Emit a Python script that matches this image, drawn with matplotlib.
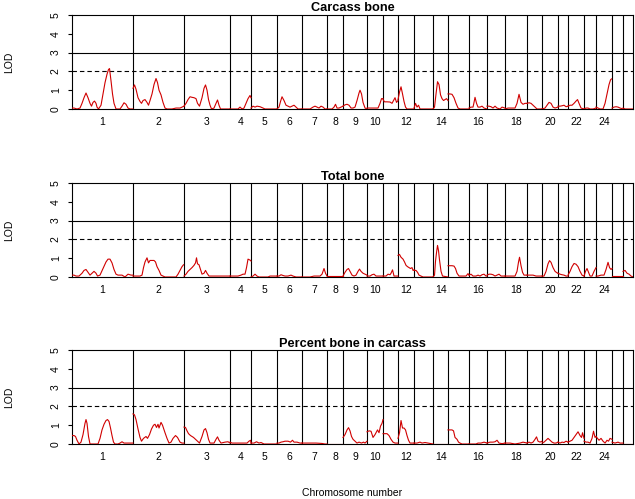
import numpy as np
import matplotlib.pyplot as plt

plt.rcParams['font.family'] = ['Liberation Sans', 'DejaVu Sans']

# chromosome lengths (map units) and labels shown under the axis
chrom_len = [61, 51, 46, 21, 26, 25, 25, 16, 24, 16, 15, 16, 19, 15, 21, 18, 18, 22, 15, 16, 10, 16, 12, 16, 11, 10]
chrom_labels = ['1', '2', '3', '4', '5', '6', '7', '8', '9', '10', '', '12', '', '14', '', '16', '',
                '18', '', '20', '', '22', '', '24', '', '']

# --- Carcass bone: positions within chromosome and LOD ---
carcass_pos = [
    [0, 2, 5, 8, 10, 12, 14, 16, 18, 19.5, 21, 22.5, 24, 25, 26.5, 29, 31, 33, 35, 36.5, 37.5, 39, 40.5, 42, 44, 48, 50, 52, 54, 56, 58, 61],
    [0, 1.5, 3, 5, 7, 8.5, 10, 12, 14, 15.5, 17, 19, 21, 23, 24.5, 26, 28, 30, 32, 34, 39, 43, 47, 49, 51],
    [0, 2, 4, 6, 8, 10, 12, 13.5, 15.5, 18, 20, 21.5, 23, 24.5, 26, 27.5, 30, 32, 33.5, 35, 36.5, 46],
    [0, 8, 10, 12, 14, 16, 18, 20, 21],
    [0, 2, 4, 6, 9, 12, 14, 26],
    [0, 2, 3.5, 5, 7, 9, 11, 13, 15, 17, 19, 21, 25],
    [0, 8, 11, 13, 15, 17, 19, 21, 23, 25],
    [0, 5, 7, 8.5, 10, 12, 14, 16],
    [0, 2, 4, 6, 8, 10, 12, 14, 16, 17, 18.5, 20, 22, 24],
    [0, 3, 7, 11, 13, 14.5, 16],
    [0, 1.5, 4, 7, 9, 10.5, 12, 13.5, 15],
    [0, 1.5, 3, 4.5, 6, 7.5, 9, 16],
    [0, 1.5, 3, 4.5, 6, 19],
    [0, 1.5, 3, 4.5, 6, 7.5, 9, 10.5, 12, 13.5, 15],
    [0, 2, 4, 6, 8, 10, 12, 21],
    [0, 2, 4, 5, 6, 7.5, 9, 11, 13, 15, 18],
    [0, 2, 4, 6, 8, 10, 13, 15, 18],
    [0, 3, 7, 10, 12, 14, 16, 18, 20, 22],
    [0, 2, 4, 6, 8, 10, 15],
    [0, 3, 5, 7, 9, 11, 13, 16],
    [0, 2, 4, 6, 8, 10],
    [0, 2, 4, 6, 8, 9.5, 11, 13, 16],
    [0, 2, 4, 6, 9, 12],
    [0, 2, 4, 7, 9, 11, 13, 14.5, 15.5],
    [0, 2, 4, 6, 8, 11],
    [0, 2, 10],
]
carcass_lod = [
    [0.05, 0.05, 0.0, 0.05, 0.3, 0.6, 0.85, 0.6, 0.3, 0.15, 0.35, 0.42, 0.3, 0.1, 0.0, 0.2, 0.8, 1.4, 1.85, 2.1, 2.15, 1.5, 0.8, 0.3, 0.0, 0.0, 0.15, 0.33, 0.25, 0.05, 0.0, 0.0],
    [1.1, 1.28, 1.05, 0.6, 0.4, 0.3, 0.45, 0.5, 0.35, 0.2, 0.45, 0.8, 1.3, 1.62, 1.4, 1.0, 0.75, 0.35, 0.05, 0.0, 0.0, 0.05, 0.05, 0.1, 0.15],
    [0.15, 0.3, 0.5, 0.65, 0.62, 0.6, 0.55, 0.3, 0.15, 0.6, 1.1, 1.28, 1.0, 0.5, 0.2, 0.0, 0.05, 0.3, 0.48, 0.2, 0.0, 0.0],
    [0.0, 0.0, 0.1, 0.0, 0.05, 0.3, 0.55, 0.72, 0.6],
    [0.05, 0.15, 0.1, 0.15, 0.12, 0.05, 0.0, 0.0],
    [0.0, 0.1, 0.4, 0.65, 0.45, 0.2, 0.15, 0.1, 0.15, 0.2, 0.1, 0.0, 0.0],
    [0.0, 0.0, 0.1, 0.15, 0.1, 0.05, 0.15, 0.1, 0.0, 0.0],
    [0.0, 0.0, 0.1, 0.25, 0.05, 0.05, 0.1, 0.15],
    [0.15, 0.22, 0.25, 0.2, 0.05, 0.05, 0.1, 0.45, 0.85, 1.0, 0.8, 0.35, 0.05, 0.0],
    [0.05, 0.05, 0.05, 0.05, 0.3, 0.55, 0.55],
    [0.5, 0.38, 0.38, 0.37, 0.3, 0.45, 0.6, 0.35, 0.45],
    [0.5, 0.9, 1.18, 0.8, 0.4, 0.1, 0.0, 0.0],
    [0.05, 0.3, 0.1, 0.2, 0.0, 0.0],
    [0.0, 0.1, 0.8, 1.45, 1.3, 0.75, 0.55, 0.45, 0.5, 0.55, 0.45],
    [0.8, 0.8, 0.78, 0.6, 0.3, 0.05, 0.0, 0.0],
    [0.05, 0.1, 0.1, 0.35, 0.62, 0.3, 0.1, 0.1, 0.15, 0.05, 0.0],
    [0.15, 0.15, 0.12, 0.05, 0.15, 0.05, 0.0, 0.1, 0.05],
    [0.0, 0.05, 0.05, 0.05, 0.3, 0.78, 0.35, 0.25, 0.3, 0.3],
    [0.3, 0.33, 0.3, 0.2, 0.1, 0.0, 0.0],
    [0.0, 0.05, 0.2, 0.35, 0.3, 0.1, 0.05, 0.1],
    [0.15, 0.15, 0.17, 0.2, 0.12, 0.15],
    [0.15, 0.2, 0.2, 0.3, 0.42, 0.5, 0.3, 0.05, 0.0],
    [0.0, 0.05, 0.05, 0.0, 0.0, 0.05],
    [0.1, 0.05, 0.0, 0.0, 0.3, 0.8, 1.3, 1.55, 1.6],
    [0.05, 0.1, 0.12, 0.1, 0.05, 0.0],
    [0.05, 0.0, 0.0],
]

# --- Total bone ---
total_pos = [
    [0, 2, 4, 7, 10, 12, 14, 16, 18, 20, 22, 24, 25.5, 28, 31, 34, 36, 38, 40, 42, 44, 46, 50, 53, 56, 59, 61],
    [0, 3, 7, 9, 10.5, 12, 14, 15.5, 17, 19, 21, 22.5, 24, 26, 28, 30, 32, 43, 45, 47, 49, 50.5],
    [0, 2, 4, 6, 8, 10, 11.5, 12.5, 13.5, 15, 16.5, 18, 20, 21.5, 23, 25, 28, 32, 36, 40, 43, 46],
    [0, 4, 8, 11, 13, 15, 16.5, 18, 20, 21],
    [0, 2, 4, 6, 8, 17, 19, 26],
    [0, 2, 4, 6, 8, 11, 14, 16, 19, 25],
    [0, 8, 12, 18, 20, 22, 23.5, 25],
    [0, 8, 16],
    [0, 2, 4, 5.5, 7, 9, 11, 13, 15, 16.5, 18, 20, 22, 24],
    [0, 3, 5, 7, 9, 12, 16],
    [0, 3, 5, 7, 8, 9.5, 11, 15],
    [0, 1.5, 3, 5, 6.5, 8, 9.5, 11, 12.5, 14, 15, 16],
    [0, 2, 3.5, 5, 7, 9, 19],
    [0, 1.5, 2.5, 3.5, 4.5, 5.5, 6.5, 8, 9.5, 15],
    [0, 2, 4, 6, 7.5, 9, 11, 15, 18, 20, 21],
    [0, 2, 4, 7, 9, 11, 13, 15, 17, 18],
    [0, 2, 4, 6, 8, 10, 12, 14, 16, 18],
    [0, 5, 10, 12, 13.5, 14.5, 16, 17.5, 19, 22],
    [0, 3, 6, 9, 15],
    [0, 2, 4, 6, 7.5, 9, 11, 13, 15, 16],
    [0, 2, 4, 6, 8, 10],
    [0, 2, 4, 6, 8, 10, 12, 14, 16],
    [0, 1.5, 3, 4.5, 6, 8, 10, 12],
    [0, 2, 5, 8, 10, 12, 13.5, 15, 16],
    [0, 5, 11],
    [0, 2, 4, 6, 8, 10],
]
total_lod = [
    [0.1, 0.1, 0.05, 0.05, 0.2, 0.35, 0.4, 0.25, 0.1, 0.2, 0.3, 0.2, 0.05, 0.1, 0.45, 0.8, 0.95, 0.95, 0.75, 0.4, 0.15, 0.1, 0.1, 0.0, 0.15, 0.1, 0.1],
    [0.05, 0.05, 0.05, 0.1, 0.5, 0.8, 1.02, 0.75, 0.88, 0.88, 0.88, 0.8, 0.55, 0.35, 0.1, 0.05, 0.0, 0.0, 0.15, 0.35, 0.55, 0.65],
    [0.05, 0.15, 0.3, 0.4, 0.5, 0.62, 0.75, 1.02, 0.7, 0.65, 0.4, 0.15, 0.2, 0.35, 0.2, 0.05, 0.05, 0.05, 0.05, 0.05, 0.05, 0.05],
    [0.05, 0.05, 0.05, 0.1, 0.15, 0.15, 0.5, 0.95, 0.9, 0.85],
    [0.0, 0.05, 0.15, 0.05, 0.0, 0.0, 0.05, 0.05],
    [0.05, 0.05, 0.12, 0.08, 0.05, 0.05, 0.1, 0.05, 0.0, 0.0],
    [0.0, 0.0, 0.05, 0.05, 0.15, 0.45, 0.2, 0.05],
    [0.05, 0.05, 0.05],
    [0.05, 0.25, 0.4, 0.45, 0.3, 0.1, 0.05, 0.1, 0.3, 0.42, 0.3, 0.2, 0.15, 0.1],
    [0.05, 0.05, 0.12, 0.15, 0.05, 0.05, 0.05],
    [0.05, 0.05, 0.15, 0.12, 0.2, 0.38, 0.05, 0.05],
    [1.15, 1.2, 1.05, 0.95, 0.8, 0.62, 0.55, 0.5, 0.45, 0.5, 0.35, 0.38],
    [0.35, 0.35, 0.25, 0.1, 0.05, 0.0, 0.0],
    [0.0, 0.1, 0.85, 1.3, 1.68, 1.4, 0.9, 0.3, 0.05, 0.0],
    [0.6, 0.6, 0.6, 0.58, 0.45, 0.2, 0.05, 0.05, 0.05, 0.18, 0.1],
    [0.1, 0.15, 0.05, 0.05, 0.1, 0.05, 0.12, 0.15, 0.05, 0.05],
    [0.1, 0.15, 0.15, 0.12, 0.05, 0.1, 0.15, 0.05, 0.05, 0.05],
    [0.05, 0.05, 0.05, 0.3, 0.8, 1.05, 0.6, 0.25, 0.1, 0.1],
    [0.1, 0.1, 0.1, 0.05, 0.05],
    [0.05, 0.05, 0.3, 0.7, 0.87, 0.78, 0.5, 0.3, 0.22, 0.2],
    [0.2, 0.15, 0.12, 0.1, 0.05, 0.05],
    [0.1, 0.3, 0.55, 0.72, 0.68, 0.55, 0.3, 0.1, 0.05],
    [0.05, 0.3, 0.45, 0.25, 0.05, 0.05, 0.3, 0.5],
    [0.05, 0.05, 0.1, 0.1, 0.4, 0.78, 0.5, 0.4, 0.45],
    [0.05, 0.05, 0.05],
    [0.3, 0.35, 0.2, 0.15, 0.05, 0.0],
]

# --- Percent bone in carcass ---
pct_pos = [
    [0, 2, 3.5, 5, 7, 9, 11, 13, 14, 15, 16.5, 18, 26, 28, 30, 32, 34, 35.5, 37, 38.5, 40, 41.5, 43, 46, 48, 50, 52, 55, 58, 61],
    [0, 1.5, 3, 5, 7, 8.5, 10.5, 13, 14.5, 16.5, 18.5, 20.5, 22, 23.5, 25, 26, 28, 29.5, 32, 34, 36, 38, 40, 42.5, 44.5, 47, 49, 51],
    [0, 1.5, 3, 4.5, 6.5, 9.5, 12.5, 15.5, 18, 20, 21.5, 23, 24.5, 26, 30, 32, 33.5, 35, 37, 41, 44, 46],
    [0, 2, 6, 10, 14, 17, 19, 20.5, 21],
    [0, 3, 5.5, 8, 10, 13, 26],
    [0, 2, 4, 6, 8, 11, 13.5, 15.5, 17, 20, 23, 25],
    [0, 8, 14, 20, 23, 25],
    [0, 16],
    [0, 2, 4, 5.5, 7, 8.5, 10, 12, 14, 16, 18.5, 20.5, 22, 24],
    [0, 2, 4, 6, 8, 9.5, 10.5, 12, 13.5, 15, 16],
    [0, 2, 4, 6, 8, 10, 12, 15],
    [0, 1.5, 3, 4.5, 6, 7.5, 9, 10.5, 12, 16],
    [0, 3, 6, 8, 11, 14, 17, 19],
    [0, 15],
    [0, 2, 4, 5.5, 7, 9, 10.5, 12, 14, 21],
    [0, 7, 9, 12, 15, 18],
    [0, 3, 6, 8, 10, 12, 15, 18],
    [0, 5, 10, 15, 18, 22],
    [0, 2, 4, 6, 8, 9.5, 11, 13, 15],
    [0, 2, 4, 6, 8, 10, 12, 14, 16],
    [0, 2, 4, 6, 8, 10],
    [0, 2, 4, 6, 8, 10, 12, 13.5, 14.5, 16],
    [0, 2, 4, 6, 8, 9.5, 11, 12],
    [0, 1.5, 3, 5, 7, 9, 11, 12.5, 14, 16],
    [0, 3, 6, 8, 11],
    [0, 10],
]
pct_lod = [
    [0.45, 0.45, 0.4, 0.2, 0.0, 0.1, 0.5, 1.1, 1.3, 1.1, 0.4, 0.0, 0.0, 0.3, 0.75, 1.05, 1.25, 1.3, 1.2, 0.85, 0.45, 0.1, 0.0, 0.0, 0.05, 0.12, 0.05, 0.05, 0.05, 0.05],
    [1.6, 1.55, 1.3, 0.8, 0.35, 0.15, 0.3, 0.4, 0.3, 0.5, 0.8, 1.0, 1.05, 0.88, 1.05, 0.85, 1.15, 1.0, 0.6, 0.3, 0.05, 0.1, 0.3, 0.45, 0.35, 0.1, 0.05, 0.05],
    [0.9, 0.88, 0.7, 0.55, 0.45, 0.35, 0.2, 0.05, 0.4, 0.75, 0.82, 0.6, 0.25, 0.05, 0.05, 0.25, 0.38, 0.2, 0.05, 0.1, 0.12, 0.05],
    [0.1, 0.05, 0.05, 0.05, 0.05, 0.05, 0.15, 0.2, 0.05],
    [0.05, 0.05, 0.12, 0.05, 0.08, 0.0, 0.0],
    [0.05, 0.05, 0.1, 0.12, 0.15, 0.15, 0.1, 0.2, 0.1, 0.1, 0.05, 0.05],
    [0.05, 0.05, 0.05, 0.03, 0.0, 0.0],
    [0.0, 0.0],
    [0.35, 0.5, 0.75, 0.87, 0.7, 0.4, 0.25, 0.15, 0.05, 0.1, 0.05, 0.1, 0.05, 0.15],
    [0.65, 0.7, 0.68, 0.35, 0.5, 0.65, 0.75, 0.6, 0.95, 1.1, 1.3],
    [0.55, 0.55, 0.55, 0.45, 0.25, 0.1, 0.05, 0.05],
    [0.3, 0.6, 1.25, 0.85, 0.85, 0.75, 0.45, 0.2, 0.05, 0.05],
    [0.05, 0.05, 0.1, 0.05, 0.08, 0.05, 0.02, 0.0],
    [0.0, 0.0],
    [0.75, 0.75, 0.75, 0.7, 0.35, 0.25, 0.1, 0.05, 0.0, 0.0],
    [0.0, 0.0, 0.05, 0.05, 0.1, 0.05],
    [0.05, 0.1, 0.1, 0.12, 0.2, 0.05, 0.02, 0.05],
    [0.05, 0.05, 0.0, 0.05, 0.1, 0.05],
    [0.05, 0.1, 0.05, 0.1, 0.25, 0.38, 0.15, 0.1, 0.15],
    [0.05, 0.1, 0.2, 0.3, 0.2, 0.1, 0.05, 0.05, 0.1],
    [0.1, 0.05, 0.1, 0.08, 0.15, 0.1],
    [0.1, 0.15, 0.2, 0.35, 0.5, 0.65, 0.45, 0.35, 0.6, 0.3],
    [0.15, 0.1, 0.1, 0.05, 0.3, 0.68, 0.35, 0.4],
    [0.4, 0.3, 0.2, 0.3, 0.15, 0.05, 0.2, 0.15, 0.3, 0.25],
    [0.1, 0.05, 0.1, 0.05, 0.05],
    [0.0, 0.0],
]

titles = ['Carcass bone', 'Total bone', 'Percent bone in carcass']
panels = [(carcass_pos, carcass_lod), (total_pos, total_lod), (pct_pos, pct_lod)]

ends = np.cumsum(chrom_len)
starts = ends - np.array(chrom_len)
mids = (starts + ends) / 2

fig = plt.figure(figsize=(6.35, 4.99), dpi=100)
bottoms = [0.7816, 0.4449, 0.1102]

for k in range(3):
    ax = fig.add_axes([0.1134, bottoms[k], 0.8835, 0.1884])
    pos, lod = panels[k]
    for s, p, l in zip(starts, pos, lod):
        ax.plot(s + np.array(p), l, color='#d00000', lw=0.8, zorder=3)
    for b in ends[:-1]:
        ax.axvline(b, color='black', lw=0.8, zorder=2)
    ax.axhline(3, color='black', lw=0.8, zorder=2)
    ax.axhline(2, color='black', lw=0.8, ls=(0, (4, 2.7)), zorder=2)

    ax.set_xlim(0, ends[-1])
    ax.set_ylim(0, 5)
    for sp in ax.spines.values():
        sp.set_linewidth(0.8)
    ax.set_xticks(mids)
    ax.set_xticklabels(chrom_labels, fontsize=7.5)
    ax.tick_params(axis='x', length=0, pad=6)
    ax.set_yticks(range(6))
    ax.set_yticklabels([str(v) for v in range(6)], fontsize=7.5, rotation=90, va='center')
    ax.tick_params(axis='y', length=3, width=0.8, pad=5)
    ax.set_title(titles[k], fontsize=9.2, fontweight='bold', pad=2.5)
    fig.text(9 / 635, bottoms[k] + 0.0942, 'LOD', rotation=90, fontsize=7.5,
             ha='center', va='center')

fig.text(352 / 635, 1 - 493 / 499, 'Chromosome number', fontsize=7.5, ha='center', va='center')

fig.savefig('out.png', dpi=100)
